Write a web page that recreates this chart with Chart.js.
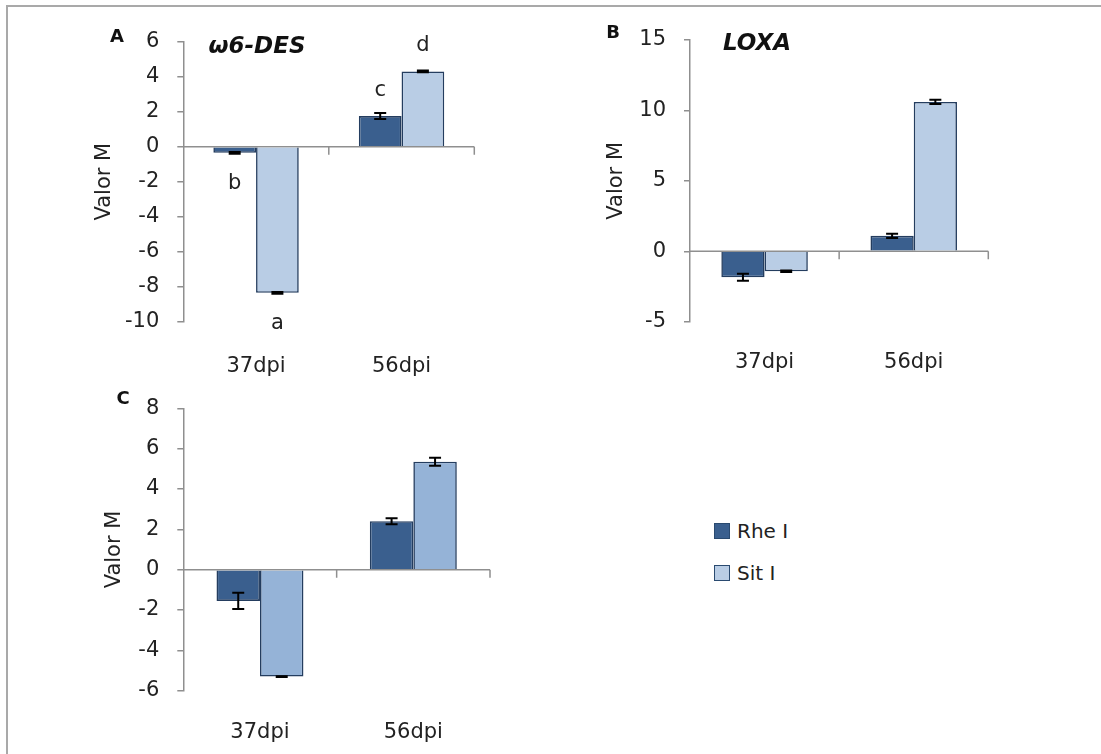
<!DOCTYPE html>
<html>
<head>
<meta charset="utf-8">
<script src="https://cdn.jsdelivr.net/npm/chart.js@4.4.1/dist/chart.umd.min.js"></script>
<style>
  html, body { margin: 0; padding: 0; background: #fff; overflow: hidden; }
  body { width: 1101px; height: 754px; position: relative; font-family: "DejaVu Sans", sans-serif; color: #222; }
  .hline { position: absolute; left: 6px; top: 5px; width: 1095px; height: 2px; background: #a9a9a9; }
  .vline { position: absolute; left: 6px; top: 5px; width: 2px; height: 749px; background: #a9a9a9; }
  canvas { position: absolute; }
  .lbl { position: absolute; transform: translate(-50%, -50%); line-height: 1; white-space: nowrap; }
  .panel { font-weight: bold; font-size: 18px; color: #111; }
  .gene { font-weight: bold; font-style: italic; font-size: 23px; color: #111; }
  .legend { position: absolute; left: 714px; top: 520px; font-size: 20px; }
  .legend .row { display: flex; align-items: center; height: 21px; margin-bottom: 21.5px; }
  .legend .sw { width: 14px; height: 14px; border: 1.5px solid #2a4a70; margin-right: 7px; }
</style>
</head>
<body>
<div class="hline"></div>
<div class="vline"></div>
<canvas id="chartA" width="420" height="360" style="left:80px;top:20px;"></canvas>
<canvas id="chartB" width="420" height="360" style="left:590px;top:20px;"></canvas>
<canvas id="chartC" width="420" height="370" style="left:90px;top:380px;"></canvas>

<div class="lbl panel" style="left:117px;top:36px;">A</div>
<div class="lbl panel" style="left:613px;top:32px;">B</div>
<div class="lbl panel" style="left:123px;top:398px;">C</div>
<div class="lbl gene" style="left:257px;top:45px;">ω6-DES</div>
<div class="lbl gene" style="left:757px;top:42px;">LOXA</div>
<div class="legend" id="legend"></div>

<script>
// Categories and series
const categories = ['37dpi', '56dpi'];
const seriesNames = ['Rhe I', 'Sit I'];

// ω6-DES (panel A)
const desRhe = [-0.35, 1.75];
const desRheErr = [0.05, 0.17];
const desSit = [-8.35, 4.3];
const desSitErr = [0.05, 0.05];
const desRheLetters = ['b', 'c'];
const desSitLetters = ['a', 'd'];
const desTicks = { min: -10, max: 6, step: 2 };

// LOXA (panel B)
const loxaRhe = [-1.85, 1.1];
const loxaRheErr = [0.25, 0.15];
const loxaSit = [-1.42, 10.6];
const loxaSitErr = [0.05, 0.15];
const loxaTicks = { min: -5, max: 15, step: 5 };

// Panel C
const cRhe = [-1.55, 2.4];
const cRheErr = [0.4, 0.15];
const cSit = [-5.3, 5.35];
const cSitErr = [0.02, 0.2];
const cTicks = { min: -6, max: 8, step: 2 };

// Colours
const rheColor = '#3a5f8e';
const sitLight = '#b9cde5';
const sitMid = '#95b3d7';
const barEdge = '#243d5f';
const axisGray = '#8f8f8f';
const textColor = '#222';
const axisFont = 21;

Chart.defaults.font.family = '"DejaVu Sans", sans-serif';
Chart.defaults.font.size = axisFont;
Chart.defaults.color = textColor;

// Zero line with category separator ticks, error bars and significance letters
const decorations = {
  id: 'decorations',
  beforeDatasetsDraw(chart) {
    const { ctx, chartArea, scales } = chart;
    const y0 = scales.y.getPixelForValue(0);
    const n = chart.data.labels.length;
    const w = (chartArea.right - chartArea.left) / n;
    ctx.save();
    ctx.strokeStyle = axisGray;
    ctx.lineWidth = 1.5;
    ctx.beginPath();
    ctx.moveTo(chartArea.left, y0);
    ctx.lineTo(chartArea.right, y0);
    for (let i = 1; i <= n; i++) {
      const x = chartArea.left + i * w;
      ctx.moveTo(x, y0);
      ctx.lineTo(x, y0 + 8);
    }
    ctx.stroke();
    ctx.restore();
  },
  afterDatasetsDraw(chart) {
    const { ctx, scales } = chart;
    ctx.save();
    chart.data.datasets.forEach((ds, di) => {
      const meta = chart.getDatasetMeta(di);
      meta.data.forEach((bar, i) => {
        const v = ds.data[i];
        const e = ds.errors ? ds.errors[i] : 0;
        const yHi = scales.y.getPixelForValue(v + e);
        const yLo = scales.y.getPixelForValue(v - e);
        ctx.strokeStyle = '#000';
        ctx.lineWidth = 2;
        ctx.beginPath();
        ctx.moveTo(bar.x, yHi); ctx.lineTo(bar.x, yLo);
        ctx.moveTo(bar.x - 6, yHi); ctx.lineTo(bar.x + 6, yHi);
        ctx.moveTo(bar.x - 6, yLo); ctx.lineTo(bar.x + 6, yLo);
        ctx.stroke();
        if (ds.letters) {
          const yv = scales.y.getPixelForValue(v);
          ctx.fillStyle = textColor;
          ctx.font = axisFont + 'px "DejaVu Sans", sans-serif';
          ctx.textAlign = 'center';
          ctx.textBaseline = 'middle';
          ctx.fillText(ds.letters[i], bar.x, v >= 0 ? yv - 26 : yv + 31);
        }
      });
    });
    ctx.restore();
  }
};

function makeChart(id, opts) {
  const datasets = [
    { label: seriesNames[0], data: opts.rhe, errors: opts.rheErr, letters: opts.rheLetters,
      backgroundColor: rheColor },
    { label: seriesNames[1], data: opts.sit, errors: opts.sitErr, letters: opts.sitLetters,
      backgroundColor: opts.sitColor }
  ];
  datasets.forEach(d => {
    d.borderColor = barEdge;
    d.borderWidth = 1.6;
    d.barPercentage = 1.0;
    d.categoryPercentage = opts.catPct;
  });
  return new Chart(document.getElementById(id), {
    type: 'bar',
    data: { labels: categories, datasets },
    options: {
      responsive: false,
      animation: false,
      events: [],
      layout: { padding: { left: 0, top: opts.padTop, right: opts.padRight, bottom: 0 } },
      plugins: { legend: { display: false }, tooltip: { enabled: false } },
      scales: {
        x: {
          grid: { display: false },
          border: { display: false },
          ticks: { padding: opts.xPad, color: textColor, font: { size: axisFont } },
          afterFit(s) {
            s.height = opts.xHeight;
            s.paddingLeft = 0; s.paddingRight = 0;
          }
        },
        y: {
          min: opts.ticks.min,
          max: opts.ticks.max,
          ticks: { stepSize: opts.ticks.step, padding: 18, color: textColor, font: { size: axisFont } },
          grid: { drawOnChartArea: false, drawTicks: true, tickLength: 6, color: axisGray, lineWidth: 1.5 },
          border: { display: true, color: axisGray, width: 1.5 },
          title: { display: true, text: 'Valor M', color: textColor, font: { size: axisFont },
                   padding: { top: opts.titlePad, bottom: 0 } },
          afterFit(s) {
            s.width = opts.yWidth;
            s.paddingTop = 0; s.paddingBottom = 0;
          }
        }
      }
    },
    plugins: [decorations]
  });
}

makeChart('chartA', {
  rhe: desRhe, rheErr: desRheErr, rheLetters: desRheLetters,
  sit: desSit, sitErr: desSitErr, sitLetters: desSitLetters,
  sitColor: sitLight, ticks: desTicks, catPct: 0.587,
  padTop: 21.7, padRight: 25.7, xHeight: 58.3, xPad: 24, yWidth: 103.3, titlePad: 12
});

makeChart('chartB', {
  rhe: loxaRhe, rheErr: loxaRheErr,
  sit: loxaSit, sitErr: loxaSitErr,
  sitColor: sitLight, ticks: loxaTicks, catPct: 0.58,
  padTop: 20, padRight: 21.7, xHeight: 58.3, xPad: 20.5, yWidth: 100, titlePad: 14
});

makeChart('chartC', {
  rhe: cRhe, rheErr: cRheErr,
  sit: cSit, sitErr: cSitErr,
  sitColor: sitMid, ticks: cTicks, catPct: 0.567,
  padTop: 28.3, padRight: 20, xHeight: 59.3, xPad: 21.5, yWidth: 93.3, titlePad: 12
});

// Legend built from the series names and colours
const legendColors = [rheColor, sitLight];
const legend = document.getElementById('legend');
seriesNames.forEach((name, i) => {
  const row = document.createElement('div');
  row.className = 'row';
  const sw = document.createElement('div');
  sw.className = 'sw';
  sw.style.background = legendColors[i];
  const tx = document.createElement('span');
  tx.textContent = name;
  row.appendChild(sw);
  row.appendChild(tx);
  legend.appendChild(row);
});
</script>
</body>
</html>
